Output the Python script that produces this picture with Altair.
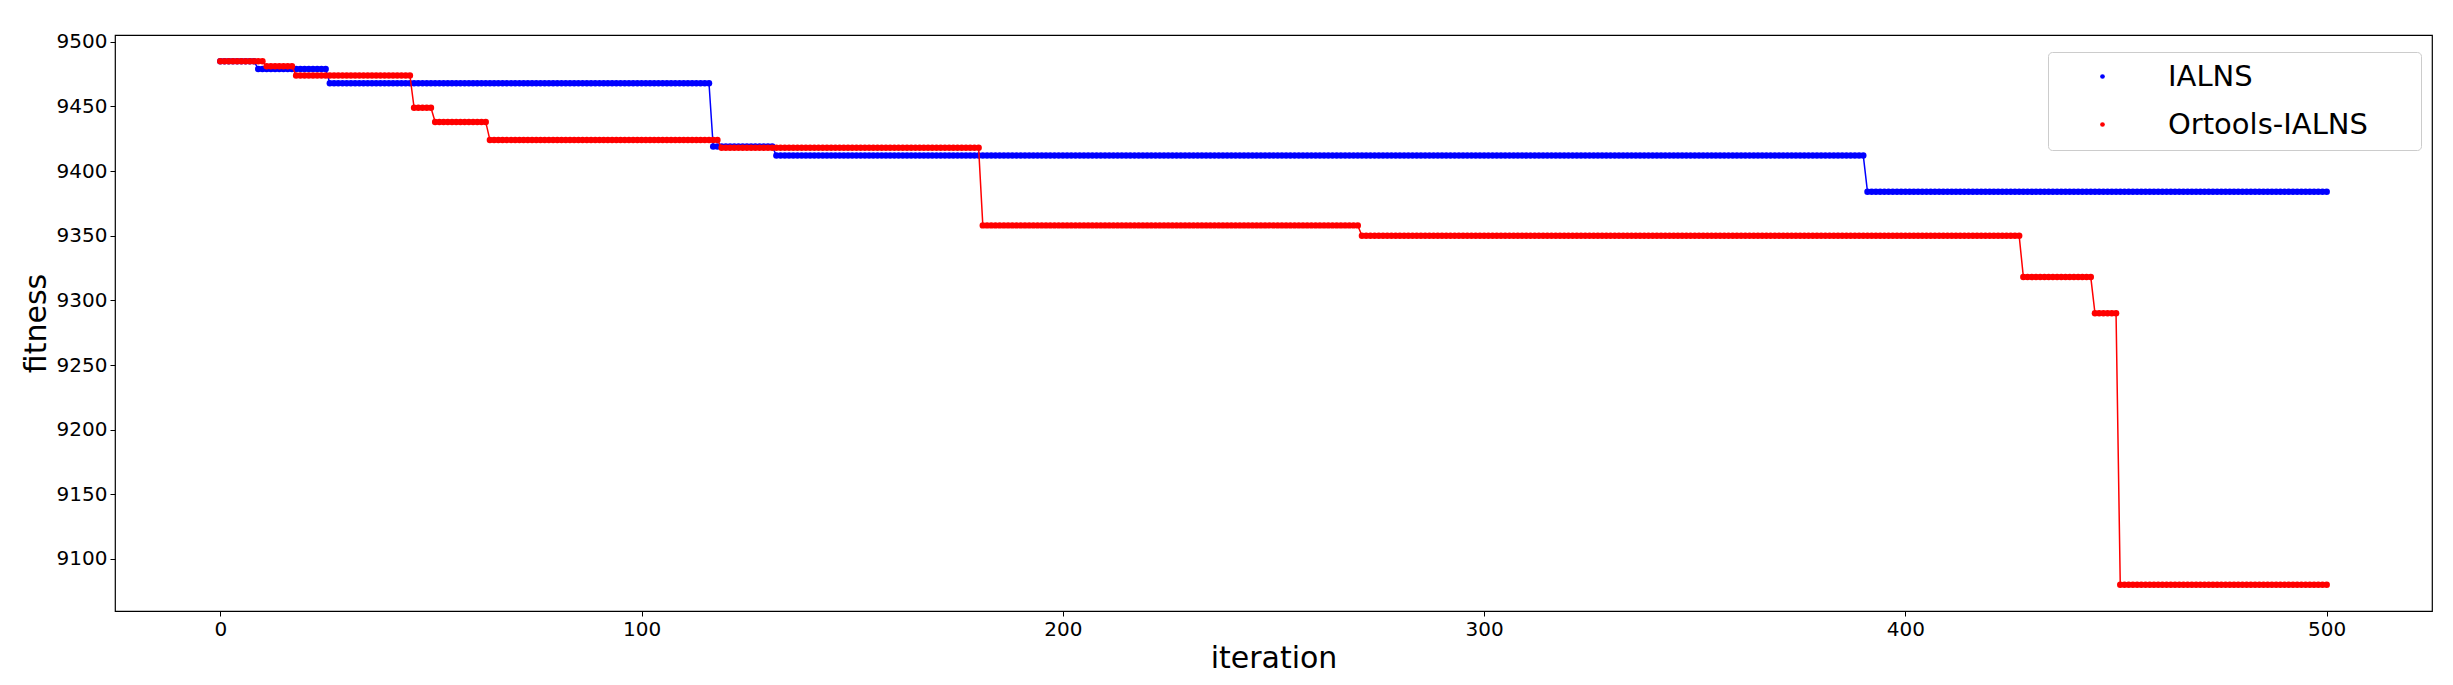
import altair as alt
import pandas as pd

# ---- data (step runs: first iteration of each level, fitness level) ----
ialns_starts = [0, 9, 26, 117, 132, 391]
ialns_values = [9485, 9479, 9468, 9419, 9412, 9384]

ortools_starts = [0, 11, 18, 46, 51, 64, 119, 181, 271, 428, 445, 451]
ortools_values = [9485, 9481, 9474, 9449, 9438, 9424, 9418, 9358, 9350, 9318, 9290, 9080]

last_iteration = 500
series_names = ["IALNS", "Ortools-IALNS"]
series_colors = ["#0000ff", "#ff0000"]

x_ticks = [0, 100, 200, 300, 400, 500]
y_ticks = [9100, 9150, 9200, 9250, 9300, 9350, 9400, 9450, 9500]
x_domain = [-25, 525]
y_domain = [9059.75, 9505.25]


def expand(name, starts, values):
    rows = []
    bounds = starts[1:] + [last_iteration + 1]
    for s, e, v in zip(starts, bounds, values):
        for it in range(s, e):
            rows.append({"iteration": it, "fitness": v, "series": name})
    return rows


df = pd.DataFrame(
    expand(series_names[0], ialns_starts, ialns_values)
    + expand(series_names[1], ortools_starts, ortools_values)
)

FONT = "DejaVu Sans"

x_enc = alt.X(
    "iteration:Q",
    scale=alt.Scale(domain=x_domain, nice=False, zero=False),
    axis=alt.Axis(
        values=x_ticks,
        title="iteration",
        titleFontSize=30,
        titleFont=FONT,
        titleFontWeight="normal",
        titleColor="black",
        titleY=56,
        titleBaseline="alphabetic",
        labelFlush=False,
        format="d",
    ),
)
y_enc = alt.Y(
    "fitness:Q",
    scale=alt.Scale(domain=y_domain, nice=False, zero=False),
    axis=alt.Axis(
        values=y_ticks,
        title="fitness",
        titleFontSize=30,
        titleFont=FONT,
        titleFontWeight="normal",
        titleColor="black",
        titleX=-70,
        titleY=288,
        titleAngle=270,
        titleAlign="center",
        titleBaseline="alphabetic",
        labelFlush=False,
        format="d",
    ),
)

color_enc = alt.Color(
    "series:N",
    scale=alt.Scale(domain=series_names, range=series_colors),
    legend=alt.Legend(
        title=None,
        orient="none",
        legendX=1933,
        legendY=17,
        padding=10,
        symbolOffset=30,
        labelOffset=51,
        symbolSize=22,
        symbolType="circle",
        symbolStrokeWidth=0,
        labelFont=FONT,
        labelFontSize=29,
        labelColor="black",
        labelLimit=600,
        labelExpr="datum.label + '\u2800\u2800'",
        rowPadding=18,
        strokeColor="#cccccc",
        cornerRadius=4,
        fillColor="white",
    ),
)

layers = []
for name, col in zip(series_names, series_colors):
    sub = alt.Chart(df).transform_filter(alt.datum.series == name)
    layers.append(
        sub.mark_line(strokeWidth=1.5, color=col).encode(x=x_enc, y=y_enc)
    )
    layers.append(
        sub.mark_circle(size=42, opacity=1).encode(x=x_enc, y=y_enc, color=color_enc)
    )

chart = (
    alt.layer(*layers)
    .properties(
        width=2317,
        height=576,
        autosize=alt.AutoSizeParams(type="none"),
        padding={"left": 107, "top": 27, "right": 13, "bottom": 66},
        background="white",
    )
    .configure_view(stroke="black", strokeWidth=1.2)
    .configure_axis(
        domain=False,
        grid=False,
        ticks=True,
        tickSize=5,
        tickColor="black",
        tickWidth=1,
        labelFont=FONT,
        labelFontSize=20,
        labelColor="black",
        labelPadding=3,
    )
)

chart.save("out.html", embed_options={"renderer": "svg", "actions": False})
